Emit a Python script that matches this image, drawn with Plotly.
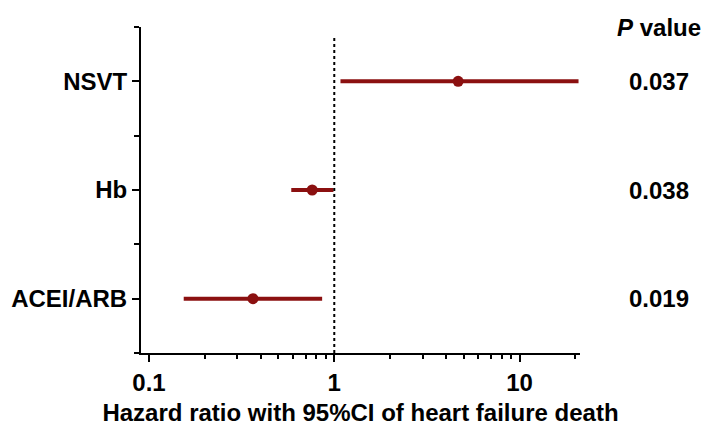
import plotly.graph_objects as go

# forest plot data
labels = ['NSVT', 'Hb', 'ACEI/ARB']
ypos = [3, 2, 1]
hr = [4.66, 0.76, 0.364]
ci_low = [1.08, 0.586, 0.154]
ci_high = [20.8, 0.99, 0.86]
pvals = ['0.037', '0.038', '0.019']

red = '#8B1010'
fnt = dict(family='Liberation Sans, Arial, sans-serif', size=24, color='black', weight='bold')

fig = go.Figure()
fig.add_trace(go.Scatter(
    x=hr, y=ypos, mode='markers',
    marker=dict(size=11, color=red),
    error_x=dict(type='data', symmetric=False,
                 array=[h - m for h, m in zip(ci_high, hr)],
                 arrayminus=[m - l for m, l in zip(hr, ci_low)],
                 thickness=4, width=0, color=red),
    showlegend=False))

# reference line at HR = 1
fig.add_shape(type='line', xref='x', yref='paper', x0=1, x1=1, y0=0, y1=0.966,
              line=dict(color='black', width=2, dash='dot'))

# p values on the right
for y, p in zip(ypos, pvals):
    fig.add_annotation(x=1.18, xref='paper', y=y, yref='y', text=p,
                       showarrow=False, font=fnt, xanchor='center')
fig.add_annotation(x=1.18, xref='paper', y=1.046, yref='paper',
                   text='<i>P</i> value', showarrow=False, font=fnt, xanchor='center')

# page body adds a small margin, so the figure is sized a bit smaller
fig.update_layout(
    width=701, height=425,
    margin=dict(l=133, r=129, t=19, b=80),
    plot_bgcolor='white', paper_bgcolor='white',
    xaxis=dict(type='log', range=[-1.043, 1.326], automargin=False,
               tickvals=[0.1, 1, 10], ticktext=['0.1', '1', '10'],
               ticks='outside', ticklen=7, tickwidth=2, tickcolor='black',
               minor=dict(ticks='outside', ticklen=4, tickwidth=2, tickcolor='black', dtick='D1'),
               showline=True, linewidth=2, linecolor='black',
               showgrid=False, zeroline=False, tickfont=fnt,
               title=dict(text='Hazard ratio with 95%CI of heart failure death', font=fnt, standoff=9)),
    yaxis=dict(range=[0.5, 3.5], tickvals=ypos, ticktext=labels, automargin=False,
               ticks='outside', ticklen=7, tickwidth=2, tickcolor='black',
               minor=dict(ticks='outside', ticklen=5, tickwidth=2, tickcolor='black',
                          tickvals=[0.5, 1.5, 2.5, 3.5]),
               showline=True, linewidth=2, linecolor='black',
               showgrid=False, zeroline=False, tickfont=fnt),
)

fig.write_html('out.html')
